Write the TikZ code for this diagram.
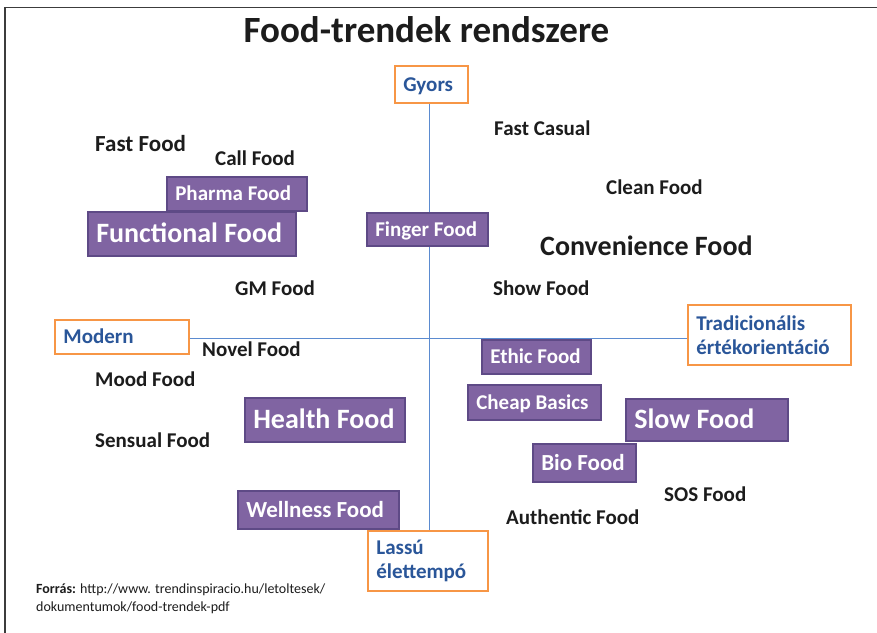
\documentclass[tikz,border=0pt]{standalone}
\usepackage{fontspec}
\setmainfont{Carlito}
\usetikzlibrary{backgrounds}
\definecolor{purp}{HTML}{8064A2}
\definecolor{purpd}{HTML}{5E4A86}
\definecolor{orng}{HTML}{F79646}
\definecolor{axblue}{HTML}{2A5699}
\definecolor{axline}{HTML}{5B8BD0}
\definecolor{txt}{HTML}{1C1C1C}
\definecolor{framec}{HTML}{3C3C3C}
\newcommand{\myfs}[1]{\fontsize{#1pt}{#1pt}\selectfont}
\newcommand{\lbox}[2]{\makebox[#1][l]{#2}}
\tikzset{
  pbox/.style={draw=purpd, fill=purp, line width=1.6pt, text=white, anchor=north west,
    inner xsep=8.5pt, inner ysep=0pt, text depth=0pt},
  abox/.style={draw=orng, fill=white, line width=1.8pt, text=axblue, anchor=north west,
    inner xsep=8.5pt, inner ysep=0pt},
  lbl/.style={anchor=west, inner sep=0pt, text=txt, text depth=0pt},
  axis/.style={draw=axline, line width=1pt}
}
\begin{document}
\begin{tikzpicture}[x=1pt,y=-1pt]
\useasboundingbox (0,0) rectangle (877,632);

\node[anchor=center, inner sep=0pt, text=txt, font=\myfs{37}\bfseries, text height=23.8pt, text depth=0pt] (title) at (426.5,31) {Food-trendek rendszere};

% axis boxes
\node[abox, font=\myfs{21}\bfseries, text height=13.5pt, text depth=0pt, minimum height=37pt] (gyors) at (394,65) {\lbox{56pt}{Gyors}};
\node[abox, font=\myfs{21}\bfseries, text height=13.5pt, text depth=0pt, minimum height=34pt] (modern) at (54,319) {\lbox{117pt}{Modern}};
\node[abox, font=\fontsize{21pt}{24pt}\selectfont\bfseries, minimum height=60pt, text width=146pt, align=flush left] (trad) at (687,304) {Tradicionális\\értékorientáció};
\node[abox, font=\fontsize{21pt}{24pt}\selectfont\bfseries, minimum height=60pt, text width=103pt, align=flush left] (lassu) at (367,530) {Lassú\\élettempó};

\coordinate (cross) at (429,338);
\begin{scope}[on background layer]
\fill[white] (0,0) rectangle (877,632);
\draw[framec, line width=1.6pt] (5,640) -- (5,7.5) -- (885,7.5);
\draw[axis] (gyors.south -| cross) -- (lassu.north -| cross);
\draw[axis] (modern.east |- cross) -- (trad.west |- cross);
\end{scope}

% purple boxes
\node[pbox, font=\myfs{21}\bfseries, text height=13.5pt, minimum height=34pt] (pharma) at (166,176) {\lbox{123pt}{Pharma Food}};
\node[pbox, font=\myfs{28}\bfseries, text height=18pt, minimum height=44pt] (functional) at (87,211) {\lbox{191pt}{Functional Food}};
\node[pbox, font=\myfs{21}\bfseries, text height=13.5pt, minimum height=33pt] (finger) at (366,212) {\lbox{104pt}{Finger Food}};
\node[pbox, font=\myfs{21}\bfseries, text height=13.5pt, minimum height=34pt] (ethic) at (481,339) {\lbox{92pt}{Ethic Food}};
\node[pbox, font=\myfs{21}\bfseries, text height=13.5pt, minimum height=35pt] (cheap) at (467,384) {\lbox{116pt}{Cheap Basics}};
\node[pbox, font=\myfs{28}\bfseries, text height=18pt, minimum height=42pt] (slow) at (625,398) {\lbox{145pt}{Slow Food}};
\node[pbox, font=\myfs{23}\bfseries, text height=14.8pt, minimum height=38pt] (bio) at (532,443) {\lbox{86pt}{Bio Food}};
\node[pbox, font=\myfs{28}\bfseries, text height=18pt, minimum height=44pt] (health) at (244,397) {\lbox{143pt}{Health Food}};
\node[pbox, font=\myfs{23}\bfseries, text height=14.8pt, minimum height=38pt] (wellness) at (237,490) {\lbox{144pt}{Wellness Food}};

% plain labels
\node[lbl, font=\myfs{23}\bfseries, text height=14.8pt] (fastfood) at (95,144) {Fast Food};
\node[lbl, font=\myfs{21}\bfseries, text height=13.5pt] (callfood) at (215,159) {Call Food};
\node[lbl, font=\myfs{21}\bfseries, text height=13.5pt] (fastcasual) at (494,129) {Fast Casual};
\node[lbl, font=\myfs{21}\bfseries, text height=13.5pt] (cleanfood) at (606,188) {Clean Food};
\node[lbl, font=\myfs{28}\bfseries, text height=18pt] (convenience) at (540,246) {Convenience Food};
\node[lbl, font=\myfs{21}\bfseries, text height=13.5pt] (gmfood) at (235,289) {GM Food};
\node[lbl, font=\myfs{21}\bfseries, text height=13.5pt] (showfood) at (493,289) {Show Food};
\node[lbl, font=\myfs{21}\bfseries, text height=13.5pt] (novelfood) at (202,350) {Novel Food};
\node[lbl, font=\myfs{21}\bfseries, text height=13.5pt] (moodfood) at (95,380) {Mood Food};
\node[lbl, font=\myfs{21}\bfseries, text height=13.5pt] (sensual) at (95,441) {Sensual Food};
\node[lbl, font=\myfs{21}\bfseries, text height=13.5pt] (sos) at (664,495) {SOS Food};
\node[lbl, font=\myfs{21}\bfseries, text height=13.5pt] (authentic) at (506,518) {Authentic Food};

\node[anchor=north west, inner sep=0pt, align=flush left, text=txt, font=\fontsize{14pt}{17.5pt}\selectfont] (source) at (36,584) {\textbf{Forrás:} http://www. trendinspiracio.hu/letoltesek/\\dokumentumok/food-trendek-pdf};
\end{tikzpicture}
\end{document}
